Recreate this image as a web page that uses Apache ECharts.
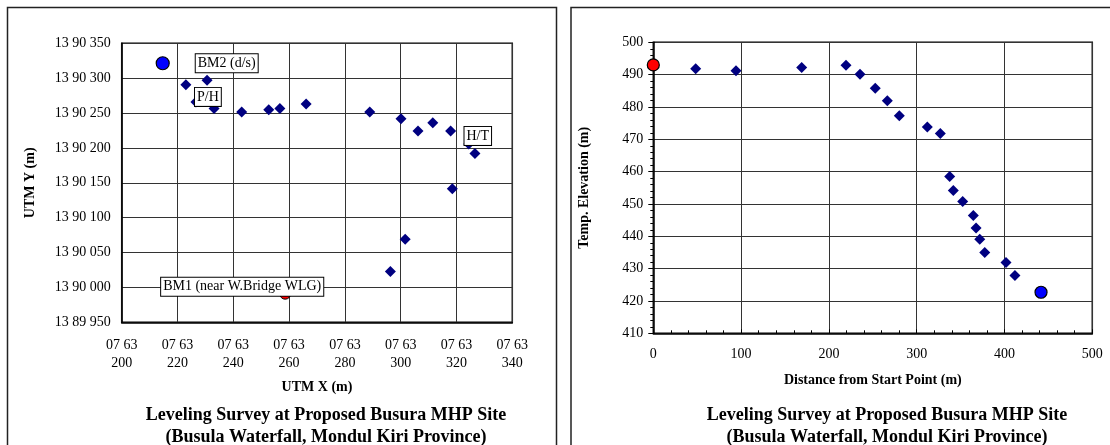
<!DOCTYPE html>
<html>
<head>
<meta charset="utf-8">
<script src="https://cdn.jsdelivr.net/npm/echarts@6/dist/echarts.min.js"></script>
<style>
html,body{margin:0;padding:0;background:#fff;}
#chart{width:1110px;height:445px;}
</style>
</head>
<body>
<div id="chart"></div>
<script>
// ---- Left chart: plan view (UTM coordinates) ----
const leftX = [763223.0, 763230.6, 763226.6, 763233.1, 763243.0, 763252.7, 763256.7, 763266.1, 763288.9, 763300.1, 763306.2, 763311.5, 763317.9, 763324.4, 763326.6, 763318.5, 763301.6, 763296.3];
const leftY = [1390290.4, 1390297.1, 1390266.0, 1390256.6, 1390251.4, 1390254.7, 1390256.6, 1390262.9, 1390251.4, 1390241.9, 1390224.3, 1390236.1, 1390224.3, 1390205.7, 1390191.9, 1390141.4, 1390069.0, 1390022.9];
const bm2Point = [763214.7, 1390321.4];
const bm1Point = [763258.6, 1389991.0];
const leftXTicks = [763200, 763220, 763240, 763260, 763280, 763300, 763320, 763340];
const leftYTicks = [1389950, 1390000, 1390050, 1390100, 1390150, 1390200, 1390250, 1390300, 1390350];
const labelBM2 = 'BM2 (d/s)';
const labelBM1 = 'BM1 (near W.Bridge WLG)';
const labelPH = 'P/H';
const labelHT = 'H/T';
const idxPH = 2;
const idxHT = 13;

// ---- Right chart: profile ----
const rightX = [48.3, 94.2, 169.0, 219.5, 235.4, 252.8, 266.5, 280.2, 312.1, 326.9, 337.6, 341.7, 352.4, 364.5, 367.6, 371.8, 377.5, 401.7, 411.9];
const rightY = [491.8, 491.2, 492.2, 492.9, 490.1, 485.8, 481.9, 477.3, 473.8, 471.8, 458.5, 454.2, 450.8, 446.4, 442.6, 439.1, 435.0, 431.9, 427.9];
const startPoint = [0, 493.0];
const endPoint = [441.6, 422.7];
const rightXTicks = [0, 100, 200, 300, 400, 500];
const rightYTicks = [410, 420, 430, 440, 450, 460, 470, 480, 490, 500];

const titleLines = ['Leveling Survey at Proposed Busura MHP Site', '(Busula Waterfall, Mondul Kiri Province)'];
const leftXName = 'UTM X (m)';
const leftYName = 'UTM Y (m)';
const rightXName = 'Distance from Start Point (m)';
const rightYName = 'Temp. Elevation (m)';

const FONT = '"Liberation Serif", "Times New Roman", serif';
const NAVY = '#000080';

function fmtY(v) {
  const s = String(Math.round(v)).padStart(7, '0');
  return s.slice(0, 2) + ' ' + s.slice(2, 4) + ' ' + s.slice(4);
}
function fmtX(v) {
  const s = String(Math.round(v)).padStart(7, '0');
  return s.slice(0, 2) + ' ' + s.slice(2, 4) + '\n' + s.slice(4);
}
const boxLabel = {
  show: true,
  position: 'inside',
  fontFamily: FONT,
  fontSize: 14,
  color: '#000',
  backgroundColor: '#fff',
  borderColor: '#000',
  borderWidth: 1,
  padding: [2, 2, 1, 2],
  lineHeight: 15
};

const diamondsLeft = leftX.map((x, i) => {
  const item = { value: [x, leftY[i]] };
  if (i === idxPH) item.label = Object.assign({}, boxLabel, { formatter: labelPH, offset: [12, -5] });
  if (i === idxHT) item.label = Object.assign({}, boxLabel, { formatter: labelHT, offset: [9, -8] });
  return item;
});

const chart = echarts.init(document.getElementById('chart'), null, { renderer: 'canvas' });
const axisLabelStyle = { fontFamily: FONT, fontSize: 14, color: '#000' };
const nameStyle = { fontFamily: FONT, fontSize: 14, fontWeight: 'bold', color: '#000' };
const splitLine = { show: true, lineStyle: { color: '#333', width: 1 } };
const titleStyle = { fontFamily: FONT, fontSize: 18, fontWeight: 'bold', color: '#000', lineHeight: 21.5 };

chart.setOption({
  animation: false,
  backgroundColor: '#fff',
  title: [
    { text: titleLines.join('\n'), left: 321, top: 400, textAlign: 'center', textStyle: titleStyle },
    { text: titleLines.join('\n'), left: 882, top: 400, textAlign: 'center', textStyle: titleStyle }
  ],
  graphic: [
    { type: 'rect', shape: { x: 7.5, y: 7.5, width: 549, height: 470 }, style: { fill: null, stroke: '#222', lineWidth: 1.5 }, silent: true, z: -1 },
    { type: 'rect', shape: { x: 571, y: 7.5, width: 600, height: 470 }, style: { fill: null, stroke: '#222', lineWidth: 1.5 }, silent: true, z: -1 }
  ],
  grid: [
    { left: 121.7, top: 43.3, width: 390.6, height: 279, show: true, borderColor: '#000', borderWidth: 1.5, backgroundColor: 'transparent' },
    { left: 653.3, top: 42.3, width: 439, height: 291, show: true, borderColor: '#000', borderWidth: 1.5, backgroundColor: 'transparent' }
  ],
  xAxis: [
    { type: 'value', gridIndex: 0, min: leftXTicks[0], max: leftXTicks[leftXTicks.length - 1], interval: 20,
      axisLine: { show: true, onZero: false, lineStyle: { color: '#000', width: 1.5 } },
      axisTick: { show: false },
      axisLabel: Object.assign({}, axisLabelStyle, { formatter: fmtX, lineHeight: 18, margin: 14 }),
      splitLine: splitLine,
      name: leftXName, nameLocation: 'middle', nameGap: 58, nameTextStyle: nameStyle },
    { type: 'value', gridIndex: 1, min: rightXTicks[0], max: rightXTicks[rightXTicks.length - 1], interval: 100,
      axisLine: { show: true, onZero: false, lineStyle: { color: '#000', width: 1.5 } },
      axisTick: { show: true, inside: true, length: 4, lineStyle: { color: '#000' } },
      minorTick: { show: true, splitNumber: 5, length: 3, lineStyle: { color: '#000' } },
      axisLabel: Object.assign({}, axisLabelStyle, { margin: 14 }),
      splitLine: splitLine,
      name: rightXName, nameLocation: 'middle', nameGap: 40, nameTextStyle: nameStyle }
  ],
  yAxis: [
    { type: 'value', gridIndex: 0, min: leftYTicks[0], max: leftYTicks[leftYTicks.length - 1], interval: 50,
      axisLine: { show: true, onZero: false, lineStyle: { color: '#000', width: 1.5 } },
      axisTick: { show: false },
      axisLabel: Object.assign({}, axisLabelStyle, { formatter: fmtY, margin: 11 }),
      splitLine: splitLine,
      name: leftYName, nameLocation: 'middle', nameGap: 84, nameTextStyle: nameStyle },
    { type: 'value', gridIndex: 1, min: rightYTicks[0], max: rightYTicks[rightYTicks.length - 1], interval: 10,
      axisLine: { show: true, onZero: false, lineStyle: { color: '#000', width: 1.5 } },
      axisTick: { show: true, length: 5, lineStyle: { color: '#000' } },
      minorTick: { show: true, splitNumber: 5, length: 3, lineStyle: { color: '#000' } },
      axisLabel: Object.assign({}, axisLabelStyle, { margin: 10 }),
      splitLine: splitLine,
      name: rightYName, nameLocation: 'middle', nameGap: 62, nameTextStyle: nameStyle }
  ],
  series: [
    { type: 'scatter', xAxisIndex: 0, yAxisIndex: 0, symbol: 'circle', symbolSize: 11, z: 2,
      itemStyle: { color: '#ff0000', borderColor: '#000', borderWidth: 1, opacity: 1 },
      label: Object.assign({}, boxLabel, { formatter: labelBM1, offset: [-43, -7] }),
      data: [bm1Point] },
    { type: 'scatter', xAxisIndex: 0, yAxisIndex: 0, symbol: 'diamond', symbolSize: 11, z: 3,
      itemStyle: { color: NAVY, opacity: 1 },
      data: diamondsLeft },
    { type: 'scatter', xAxisIndex: 0, yAxisIndex: 0, symbol: 'circle', symbolSize: 13, z: 3,
      itemStyle: { color: '#0000ff', borderColor: '#000', borderWidth: 1.2, opacity: 1 },
      label: Object.assign({}, boxLabel, { formatter: labelBM2, offset: [64, 0] }),
      data: [bm2Point] },
    { type: 'scatter', xAxisIndex: 1, yAxisIndex: 1, symbol: 'diamond', symbolSize: 11, z: 3,
      itemStyle: { color: NAVY, opacity: 1 },
      data: rightX.map((x, i) => [x, rightY[i]]) },
    { type: 'scatter', xAxisIndex: 1, yAxisIndex: 1, symbol: 'circle', symbolSize: 12, z: 4, clip: false,
      itemStyle: { color: '#ff0000', borderColor: '#000', borderWidth: 1.2, opacity: 1 },
      data: [startPoint] },
    { type: 'scatter', xAxisIndex: 1, yAxisIndex: 1, symbol: 'circle', symbolSize: 12, z: 4, clip: false,
      itemStyle: { color: '#0000ff', borderColor: '#000', borderWidth: 1.2, opacity: 1 },
      data: [endPoint] }
  ]
});
</script>
</body>
</html>
